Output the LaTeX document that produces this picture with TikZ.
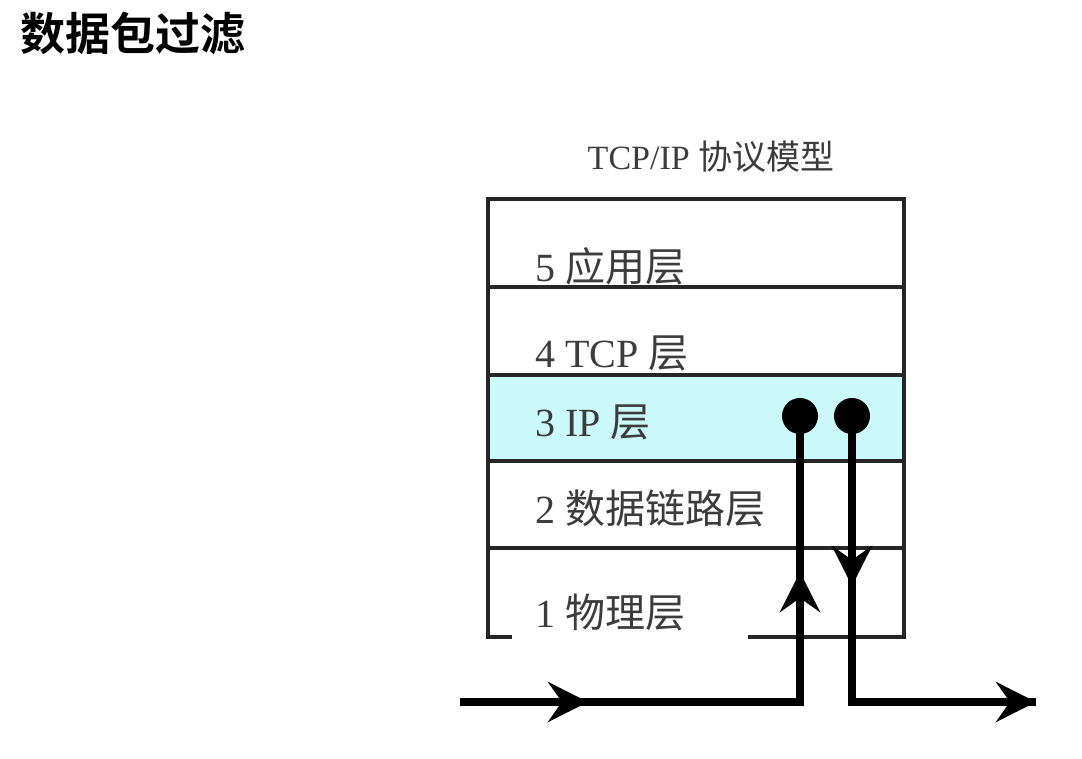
\documentclass[tikz,border=0pt]{standalone}
\usepackage{fontspec}
\setmainfont{Liberation Serif}
\newfontfamily\cjk{Noto Sans CJK SC}
\newfontfamily\cjkb{Noto Sans CJK SC Bold}
\usetikzlibrary{arrows.meta,decorations.markings}
\definecolor{ipcyan}{RGB}{204,250,250}
\definecolor{txtgray}{RGB}{60,60,60}
\tikzset{
 layerbox/.style={draw=black!85,line width=3.5pt},
 lbl/.style={anchor=west,text=txtgray,font=\fontsize{40}{40}\selectfont,inner sep=0pt},
 flow/.style={line width=8pt,line join=miter},
 tip/.style={-{Stealth[length=40pt,width=40pt,inset=14pt]}},
 dot/.style={circle,fill=black,minimum size=36pt,inner sep=0pt}
}
\begin{document}
\begin{tikzpicture}[x=1pt,y=-1pt]
\useasboundingbox (0,0) rectangle (1082,759);
\node[anchor=west,inner sep=0pt,font=\cjkb\fontsize{45}{45}\selectfont] (title) at (20,33) {数据包过滤};
\node[text=txtgray,font=\fontsize{34}{34}\selectfont,inner sep=0pt] (model) at (711,157) {TCP/IP {\cjk 协议模型}};
\fill[ipcyan] (488,375) rectangle (904,461);
\draw[layerbox] (512,637) -- (488,637) -- (488,199) -- (904,199) -- (904,637) -- (748,637);
\foreach \y in {287,375,461,548} \draw[layerbox] (488,\y) -- (904,\y);
\node[lbl] (l5) at (535,266) {5 {\cjk 应用层}};
\node[lbl] (l4) at (535,353) {4 TCP {\cjk 层}};
\node[lbl] (l3) at (535,422) {3 IP {\cjk 层}};
\node[lbl] (l2) at (535,508) {2 {\cjk 数据链路层}};
\node[lbl] (l1) at (535,612) {1 {\cjk 物理层}};
\node[dot] (d1) at (800,416) {};
\node[dot] (d2) at (852,416) {};
\coordinate (in) at (460,702);
\coordinate (inc) at (800,702);
\coordinate (outc) at (852,702);
\coordinate (out) at (1036,702);
\draw[flow] (in) -- (inc) -- (d1.center);
\draw[flow] (d2.center) -- (outc) -- (out);
\draw[flow,tip] (in) -- ++(128,0);
\draw[flow,tip] (inc) -- ++(0,-130);
\draw[flow,tip] (d2.center) -- ++(0,170);
\draw[flow,tip] (outc) -- (out);
\end{tikzpicture}
\end{document}
